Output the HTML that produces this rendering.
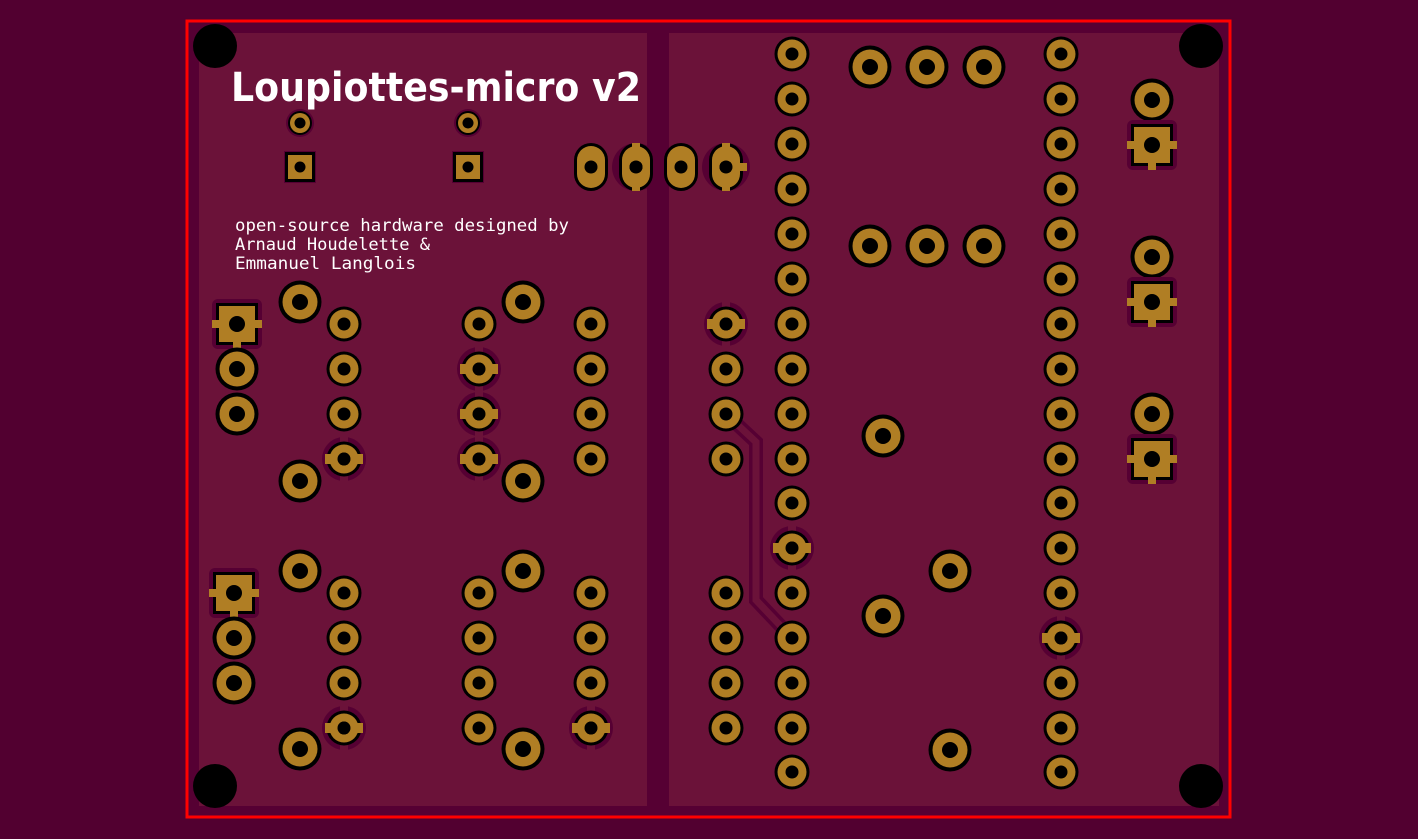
<!DOCTYPE html>
<html><head><meta charset="utf-8"><style>html,body{margin:0;padding:0;background:#520030;}svg{display:block}</style></head><body>
<svg width="1418" height="839" viewBox="0 0 1418 839" xmlns="http://www.w3.org/2000/svg">
<defs>
<g id="ps"><circle r="17.5" fill="#000"/><circle r="14.5" fill="#b07e24"/><circle r="6.5" fill="#000"/></g>
<g id="pb"><circle r="21.5" fill="#000"/><circle r="17.5" fill="#b07e24"/><circle r="8" fill="#000"/></g>
<g id="ts"><circle r="22" fill="#560033"/><rect x="-4" y="-23" width="8" height="46" fill="#6b1239"/><use href="#ps"/><rect x="-19" y="-5" width="38" height="10" fill="#b07e24"/><circle r="6.5" fill="#000"/></g>
<g id="tv"><use href="#ts"/></g>
<g id="sq"><rect x="-25" y="-25" width="50" height="50" rx="6" fill="#560033"/><rect x="-21" y="-21" width="42" height="42" fill="#000"/><rect x="-18" y="-18" width="36" height="36" fill="#b07e24"/><rect x="-25" y="-4" width="50" height="8" fill="#b07e24"/><rect x="-4" y="0" width="8" height="25" fill="#b07e24"/><circle r="8" fill="#000"/></g>
<g id="sm"><circle r="14" fill="#560033"/><circle r="12" fill="#000"/><circle r="10" fill="#b07e24"/><circle r="5.5" fill="#000"/></g>
<g id="ss"><rect x="-16" y="-16" width="32" height="32" fill="#560033"/><rect x="-15" y="-15" width="30" height="30" fill="#000"/><rect x="-12" y="-12" width="24" height="24" fill="#b07e24"/><circle r="5.5" fill="#000"/></g>
<g id="ov"><rect x="-17" y="-24" width="34" height="48" rx="17" fill="#000"/><rect x="-14" y="-21" width="28" height="42" rx="14" fill="#b07e24"/><circle r="6.5" fill="#000"/></g>
</defs>
<rect x="187" y="21" width="1043" height="796" fill="#560033" stroke="#ff0000" stroke-width="3"/>
<rect x="199" y="33" width="448" height="773" fill="#6b1239"/>
<rect x="669" y="33" width="550" height="773" fill="#6b1239"/>
<circle cx="215" cy="46" r="22" fill="#000"/><circle cx="1201" cy="46" r="22" fill="#000"/>
<circle cx="215" cy="786" r="22" fill="#000"/><circle cx="1201" cy="786" r="22" fill="#000"/>
<text x="231" y="101" font-family="DejaVu Sans, sans-serif" font-weight="bold" font-size="40" fill="#fff" textLength="410" lengthAdjust="spacingAndGlyphs">Loupiottes-micro v2</text>
<g font-family="DejaVu Sans Mono, Liberation Mono, monospace" font-size="17" fill="#fff">
<text x="235" y="231" textLength="334" lengthAdjust="spacingAndGlyphs">open-source hardware designed by</text>
<text x="235" y="250" textLength="195" lengthAdjust="spacingAndGlyphs">Arnaud Houdelette &amp;</text>
<text x="235" y="269" textLength="181" lengthAdjust="spacingAndGlyphs">Emmanuel Langlois</text>
</g>
<polyline points="726,414 756,442 756,600 792,638" fill="none" stroke="#560033" stroke-width="14"/>
<polyline points="726,414 756,442 756,600 792,638" fill="none" stroke="#6b1239" stroke-width="7"/>
<use href="#sm" x="300" y="123"/><use href="#sm" x="468" y="123"/>
<use href="#ss" x="300" y="167"/><use href="#ss" x="468" y="167"/>
<circle cx="636" cy="167" r="24" fill="#560033"/><circle cx="726" cy="167" r="24" fill="#560033"/>
<use href="#ov" x="591" y="167"/><use href="#ov" x="636" y="167"/><use href="#ov" x="681" y="167"/><use href="#ov" x="726" y="167"/>
<rect x="632" y="143" width="8" height="48" fill="#b07e24"/><circle cx="636" cy="167" r="6.5" fill="#000"/>
<rect x="722" y="143" width="8" height="48" fill="#b07e24"/><rect x="726" y="163" width="21" height="8" fill="#b07e24"/><circle cx="726" cy="167" r="6.5" fill="#000"/>
<use href="#ps" x="792" y="54"/><use href="#ps" x="792" y="99"/><use href="#ps" x="792" y="144"/><use href="#ps" x="792" y="189"/><use href="#ps" x="792" y="234"/><use href="#ps" x="792" y="279"/><use href="#ps" x="792" y="324"/><use href="#ps" x="792" y="369"/><use href="#ps" x="792" y="414"/><use href="#ps" x="792" y="459"/><use href="#ps" x="792" y="503"/><use href="#ts" x="792" y="548"/><use href="#ps" x="792" y="593"/><use href="#ps" x="792" y="638"/><use href="#ps" x="792" y="683"/><use href="#ps" x="792" y="728"/><use href="#ps" x="792" y="772"/>
<use href="#ps" x="1061" y="54"/><use href="#ps" x="1061" y="99"/><use href="#ps" x="1061" y="144"/><use href="#ps" x="1061" y="189"/><use href="#ps" x="1061" y="234"/><use href="#ps" x="1061" y="279"/><use href="#ps" x="1061" y="324"/><use href="#ps" x="1061" y="369"/><use href="#ps" x="1061" y="414"/><use href="#ps" x="1061" y="459"/><use href="#ps" x="1061" y="503"/><use href="#ps" x="1061" y="548"/><use href="#ps" x="1061" y="593"/><use href="#ts" x="1061" y="638"/><use href="#ps" x="1061" y="683"/><use href="#ps" x="1061" y="728"/><use href="#ps" x="1061" y="772"/>
<use href="#ps" x="344" y="324"/><use href="#ps" x="344" y="369"/><use href="#ps" x="344" y="414"/><use href="#tv" x="344" y="459"/>
<use href="#ps" x="344" y="593"/><use href="#ps" x="344" y="638"/><use href="#ps" x="344" y="683"/><use href="#tv" x="344" y="728"/>
<use href="#ps" x="479" y="324"/><use href="#tv" x="479" y="369"/><use href="#tv" x="479" y="414"/><use href="#tv" x="479" y="459"/>
<use href="#ps" x="479" y="593"/><use href="#ps" x="479" y="638"/><use href="#ps" x="479" y="683"/><use href="#ps" x="479" y="728"/>
<use href="#ps" x="591" y="324"/><use href="#ps" x="591" y="369"/><use href="#ps" x="591" y="414"/><use href="#ps" x="591" y="459"/>
<use href="#ps" x="591" y="593"/><use href="#ps" x="591" y="638"/><use href="#ps" x="591" y="683"/><use href="#tv" x="591" y="728"/>
<use href="#tv" x="726" y="324"/><use href="#ps" x="726" y="369"/><use href="#ps" x="726" y="414"/><use href="#ps" x="726" y="459"/>
<use href="#ps" x="726" y="593"/><use href="#ps" x="726" y="638"/><use href="#ps" x="726" y="683"/><use href="#ps" x="726" y="728"/>
<use href="#pb" x="300" y="302"/><use href="#pb" x="300" y="481"/><use href="#pb" x="300" y="571"/><use href="#pb" x="300" y="749"/>
<use href="#pb" x="523" y="302"/><use href="#pb" x="523" y="481"/><use href="#pb" x="523" y="571"/><use href="#pb" x="523" y="749"/>
<use href="#sq" x="237" y="324"/><use href="#pb" x="237" y="369"/><use href="#pb" x="237" y="414"/>
<use href="#sq" x="234" y="593"/><use href="#pb" x="234" y="638"/><use href="#pb" x="234" y="683"/>
<use href="#pb" x="870" y="67"/><use href="#pb" x="927" y="67"/><use href="#pb" x="984" y="67"/>
<use href="#pb" x="870" y="246"/><use href="#pb" x="927" y="246"/><use href="#pb" x="984" y="246"/>
<use href="#pb" x="883" y="436"/><use href="#pb" x="883" y="616"/>
<use href="#pb" x="950" y="571"/><use href="#pb" x="950" y="750"/>
<use href="#pb" x="1152" y="100"/><use href="#sq" x="1152" y="145"/>
<use href="#pb" x="1152" y="257"/><use href="#sq" x="1152" y="302"/>
<use href="#pb" x="1152" y="414"/><use href="#sq" x="1152" y="459"/>
</svg>
</body></html>
